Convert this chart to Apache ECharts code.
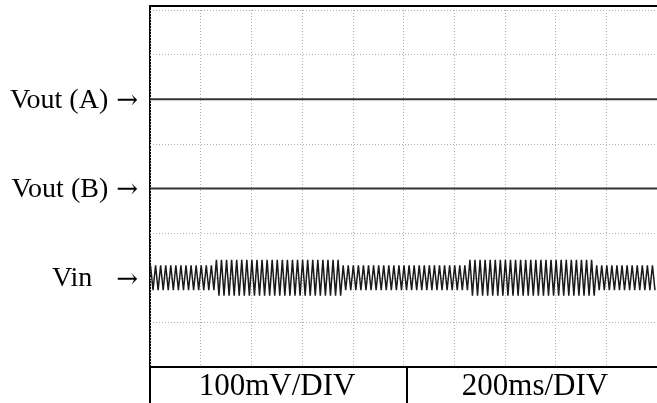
<!DOCTYPE html>
<html>
<head>
<meta charset="utf-8">
<script src="https://cdn.jsdelivr.net/npm/echarts@6/dist/echarts.min.js"></script>
<style>
html,body{margin:0;padding:0;background:#fff;}
#c{width:657px;height:403px;}
</style>
</head>
<body>
<div id="c"></div>
<script>
// ---- data (x in time divisions, y in mV) ----
var yLabelValues = [200, 0, -200];
var yLabelTexts = ['Vout (A)', 'Vout (B)', 'Vin'];
var voutA = [[0, 200], [10, 200]];
var voutB = [[0, 0], [10, 0]];
var vinCenter = -200;
var vinPeriod = 0.1;      // divisions per cycle
var vinPhase = 0.01;      // first peak position (div)
// amplitude (mV) of each cycle
var vinAmp = [
  28,28,28,28,28,28,28,28,28,28,28,28,28,
  40,40,40,40,40,40,40,40,40,40,40,40,40,40,40,40,40,40,40,40,40,40,40,40,40,
  28,28,28,28,28,28,28,28,28,28,28,28,28,28,28,28,28,28,28,28,28,28,28,28,28,
  40,40,40,40,40,40,40,40,40,40,40,40,40,40,40,40,40,40,40,40,40,40,40,40,40,
  28,28,28,28,28,28,28,28,28,28,28,28
];
var scaleTexts = ['100mV/DIV', '200ms/DIV'];

// build the Vin peak/trough sequence from the read amplitudes
var vin = [];
for (var k = 0; k < vinAmp.length; k++) {
  var t = vinPhase + k * vinPeriod;
  vin.push([t, vinCenter + vinAmp[k]]);
  vin.push([t + vinPeriod / 2, vinCenter - vinAmp[k]]);
}

var serif = '"Liberation Serif","Times New Roman",serif';
var chart = echarts.init(document.getElementById('c'), null, {renderer: 'canvas'});
var gridLine = {show: true, lineStyle: {color: '#b0b0b0', width: 1, type: [1, 2]}};
chart.setOption({
  animation: false,
  grid: {left: 150, top: 10, width: 516, height: 357, containLabel: false},
  xAxis: {
    type: 'value', min: 0, max: 10, interval: 1,
    axisLine: {show: true, onZero: false, lineStyle: {color: '#000', width: 2}},
    axisTick: {show: false}, axisLabel: {show: false},
    splitLine: gridLine
  },
  yAxis: {
    type: 'value', min: -400, max: 400, interval: 100,
    axisLine: {show: false}, axisTick: {show: false},
    axisLabel: {
      show: true, margin: 12, color: '#000',
      formatter: function (v) {
        var i = yLabelValues.indexOf(v);
        if (i < 0) return '';
        return (i === 2 ? '{v|' : '{t|') + yLabelTexts[i] + '}{a|\u2192}';
      },
      rich: {
        t: {fontFamily: serif, fontSize: 28, color: '#000', padding: [2, 8, 0, 0]},
        v: {fontFamily: serif, fontSize: 28, color: '#000', padding: [2, 24, 0, 0]},
        a: {fontFamily: '"DejaVu Serif"', fontSize: 26, color: '#000', padding: [4, 0, 0, 0]}
      }
    },
    splitLine: gridLine
  },
  series: [
    {type: 'line', data: voutA, symbol: 'none', lineStyle: {color: '#333', width: 2}},
    {type: 'line', data: voutB, symbol: 'none', lineStyle: {color: '#333', width: 2}},
    {type: 'line', data: vin, symbol: 'none', lineStyle: {color: '#1a1a1a', width: 1.5}}
  ],
  graphic: [
    {type: 'line', shape: {x1: 149, y1: 6, x2: 657, y2: 6}, style: {stroke: '#000', lineWidth: 2}},
    {type: 'line', shape: {x1: 150, y1: 5, x2: 150, y2: 403}, style: {stroke: '#000', lineWidth: 2}},
    {type: 'line', shape: {x1: 407, y1: 367, x2: 407, y2: 403}, style: {stroke: '#000', lineWidth: 2}},
    {type: 'text', x: 277, y: 387, style: {text: scaleTexts[0], textAlign: 'center', textVerticalAlign: 'middle', font: '31px ' + serif, fill: '#000'}},
    {type: 'text', x: 535, y: 387, style: {text: scaleTexts[1], textAlign: 'center', textVerticalAlign: 'middle', font: '31px ' + serif, fill: '#000'}}
  ]
});
</script>
</body>
</html>
